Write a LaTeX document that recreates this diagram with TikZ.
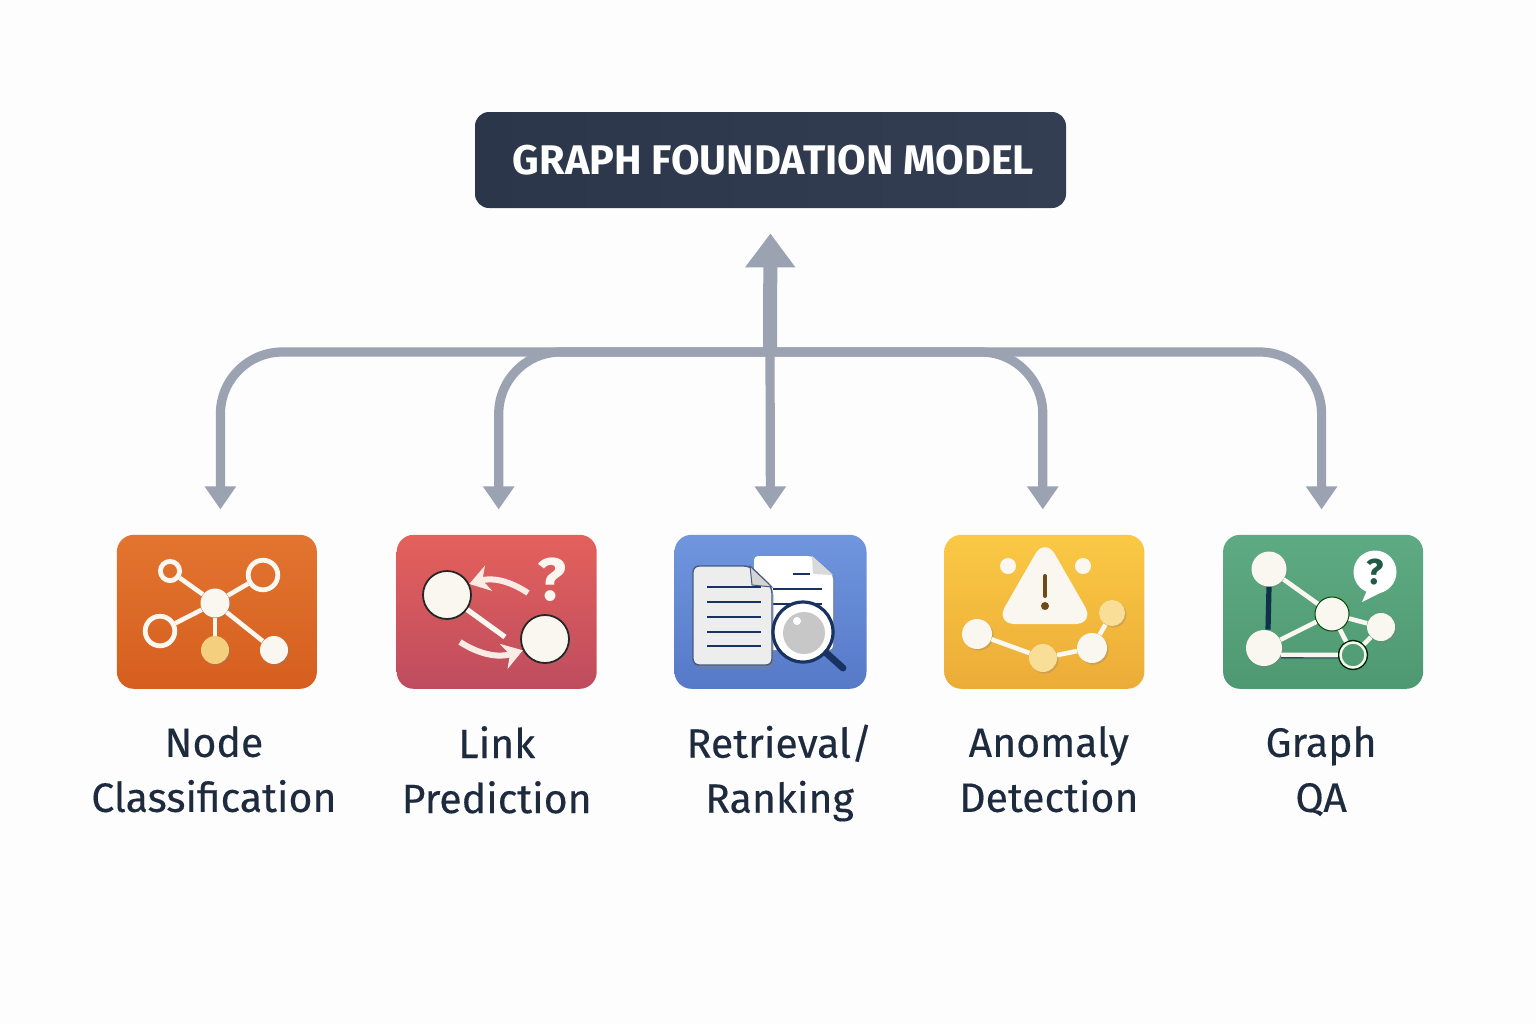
\documentclass[tikz,border=0pt]{standalone}
\usepackage{xcolor}
\usepackage{fontspec}
\setmainfont{Fira Sans}
\newfontfamily\lblfont{Fira Sans}[FakeBold=0.3]
\usetikzlibrary{arrows.meta, positioning, shadows}
\definecolor{bgwhite}{RGB}{253, 253, 253}
\definecolor{linkgray}{RGB}{155, 162, 178}
\definecolor{inkblue}{RGB}{30, 43, 62}
\definecolor{navy}{RGB}{24, 50, 98}
\definecolor{cream}{RGB}{250, 247, 241}
\definecolor{titleleft}{RGB}{43, 54, 74}
\definecolor{titleright}{RGB}{52, 62, 82}
\definecolor{orangetop}{RGB}{226, 117, 48}
\definecolor{orangelow}{RGB}{214, 94, 30}
\definecolor{redtop}{RGB}{228, 97, 92}
\definecolor{redlow}{RGB}{190, 76, 94}
\definecolor{bluetop}{RGB}{112, 150, 222}
\definecolor{bluelow}{RGB}{86, 121, 200}
\definecolor{goldtop}{RGB}{250, 201, 68}
\definecolor{goldlow}{RGB}{236, 172, 56}
\definecolor{greentop}{RGB}{94, 170, 131}
\definecolor{greenlow}{RGB}{78, 153, 113}
\definecolor{sand}{RGB}{243, 207, 126}
\definecolor{butter}{RGB}{248, 222, 150}
\definecolor{umber}{RGB}{110, 74, 20}
\definecolor{deepteal}{RGB}{16, 48, 74}
\definecolor{askgreen}{RGB}{31, 91, 69}
\definecolor{midgreen}{RGB}{82, 158, 118}

\begin{document}
\begin{tikzpicture}[
    x=0.5pt, y=-0.5pt,
    title/.style={rectangle, rounded corners=7pt, minimum width=295.5pt, minimum height=48pt, left color=titleleft, right color=titleright, text=white, font=\fontsize{20.7}{24}\selectfont\bfseries},
    icon/.style={rectangle, rounded corners=8.5pt, minimum width=100pt, minimum height=77pt, inner sep=0pt},
    lbl/.style={align=center, text=inkblue, inner sep=0pt, font=\lblfont\fontsize{20.5}{27.5}\selectfont, execute at begin node=\strut, execute at end node=\strut},
    link/.style={line width=4.6pt, draw=linkgray, rounded corners=31pt, shorten >=12.5pt, -{Triangle[width=15pt, length=11.5pt]}},
    uplink/.style={line width=7pt, draw=linkgray, shorten >=12.5pt, -{Triangle[width=24pt, length=17pt]}},
    dot/.style={circle, inner sep=0pt, minimum size=#1, fill=cream, drop shadow={shadow xshift=0.8pt, shadow yshift=-0.8pt, opacity=0.3}},
    rim/.style={dot=#1, draw=black!85, line width=0.9pt},
    ring/.style={circle, inner sep=0pt, minimum size=#1, draw=cream, line width=2.4pt},
    edge/.style={line width=2.3pt, draw=cream},
    swoop/.style={line width=3pt, draw=cream!95!red, -{Stealth[width=13pt, length=10pt]}}
]

    \fill[bgwhite] (0,0) rectangle (1536,1024);
    \useasboundingbox (0,0) rectangle (1536,1024);

    \node[title] (gfm) at (770.5,160) {\hspace{3pt}GRAPH FOUNDATION MODEL};

    \node[icon, minimum width=96pt, below=163pt of gfm, top color=bluetop, bottom color=bluelow] (rr) {};
    \node[icon, left=38.5pt of rr, top color=redtop, bottom color=redlow] (lp) {};
    \node[icon, left=39.5pt of lp, top color=orangetop, bottom color=orangelow] (nc) {};
    \node[icon, right=38.5pt of rr, top color=goldtop, bottom color=goldlow] (ad) {};
    \node[icon, right=39pt of ad, top color=greentop, bottom color=greenlow] (qa) {};

    \node[lbl, below=18.25pt of nc, xshift=-1.5pt] (nctext) {Node\\Classification};
    \node[lbl, below=18.25pt of lp] (lptext) {Link\\Prediction};
    \node[lbl, below=17.5pt of rr, xshift=4.5pt] (rrtext) {Retrieval/\\Ranking};
    \node[lbl, below=18.25pt of ad, xshift=2.25pt] (adtext) {Anomaly\\Detection};
    \node[lbl, below=18.25pt of qa, xshift=-1pt] (qatext) {Graph\\QA};

    \coordinate (hub) at (770,352);
    \draw[link] (hub) -| ([xshift=1.75pt]nc.north);
    \draw[link] (hub) -| ([xshift=1pt]lp.north);
    \draw[link] (hub) -- (rr.north);
    \draw[link] (hub) -| ([xshift=-0.75pt]ad.north);
    \draw[link] (hub) -| ([xshift=-0.75pt]qa.north);
    \draw[uplink] (hub) -- (gfm.south);

    % node classification
    \node[dot=14.5pt] (nchub) at (215,603) {};
    \node[ring=9.6pt] (nca) at (170,571) {};
    \node[ring=14.8pt] (ncb) at (263,575) {};
    \node[ring=14.8pt] (ncc) at (160,631) {};
    \node[dot=14pt, fill=sand] (ncd) at (215,650) {};
    \node[dot=14pt] (nce) at (274,650) {};
    \foreach \leaf in {nca, ncb, ncc, ncd, nce}
        \draw[edge] (nchub) -- (\leaf);

    % link prediction
    \node[rim=24pt] (lpa) at (447,595) {};
    \node[rim=24pt] (lpb) at (545,639) {};
    \coordinate (lpstop) at (505,637);
    \coordinate (lpup) at (528,593);
    \coordinate (lpdown) at (460,642);
    \draw[edge, line width=2.6pt] (lpa) -- (lpstop);
    \draw[swoop] (lpup) to[bend right=25] (lpa);
    \draw[swoop] (lpdown) to[bend right=25] (lpb);
    \node[text=cream, font=\fontsize{30}{30}\selectfont\bfseries] (lpask) at (552,580) {?};

    % retrieval
    \draw[fill=white, draw=none, rounded corners=2pt, drop shadow={shadow xshift=1pt, shadow yshift=-1pt, opacity=0.3}] (754,556) -- (812,556) -- (833,575) -- (833,650) -- (754,650) -- cycle;
    \fill[black!15] (812,556) -- (833,575) -- (813,574) -- cycle;
    \draw[navy, line width=1.2pt] (793,574) -- (810,574);
    \draw[navy, line width=1.2pt] (773,589) -- (822,589);
    \draw[navy, line width=1.2pt] (773,604) -- (822,604);
    \draw[fill=black!7, draw=navy!80, line width=0.7pt, rounded corners=3pt, drop shadow={shadow xshift=1pt, shadow yshift=-2pt, opacity=0.35}] (693,566) -- (750,566) -- (772,587) -- (772,665) -- (693,665) -- cycle;
    \fill[black!17, draw=navy!80, line width=0.5pt] (750,566) -- (772,587) -- (752,585) -- cycle;
    \foreach \row in {587, 602, 617, 632, 646}
        \draw[navy, line width=1.3pt] (707,\row) -- (761,\row);
    \node[circle, inner sep=0pt, minimum size=30pt, fill=white, draw=navy, line width=1.6pt] (rrlens) at (803,632) {};
    \node[circle, inner sep=0pt, minimum size=21pt, fill=black!22] (rrglass) at (804,633) {};
    \fill[white] (797,621) circle (4);
    \coordinate (rrgrip) at (843,668);
    \draw[navy, line width=3.4pt, line cap=round] (rrlens) -- (rrgrip);

    % anomaly detection
    \draw[fill=cream, draw=cream, line width=4pt, line join=round, rounded corners=6pt, drop shadow={shadow xshift=1pt, shadow yshift=-1pt, opacity=0.2}] (1045,545) -- (1088,620) -- (1002,620) -- cycle;
    \draw[draw=umber, line width=2pt, line cap=round] (1045,576) -- (1045,596);
    \fill[umber] (1045,606) circle (4);
    \node[circle, inner sep=0pt, minimum size=8pt, fill=cream] (adl) at (1008,566) {};
    \node[circle, inner sep=0pt, minimum size=8pt, fill=cream] (adr) at (1083,566) {};
    \node[dot=15pt] (ada) at (977,634) {};
    \node[dot=14pt, fill=butter] (adb) at (1043,658) {};
    \node[dot=15pt] (adc) at (1092,648) {};
    \node[dot=13pt, fill=butter] (add) at (1112,613) {};
    \draw[edge] (ada) -- (adb);
    \draw[edge] (adb) -- (adc);
    \draw[edge] (adc) -- (add);

    % graph qa
    \node[dot=17.5pt] (qaa) at (1269,569) {};
    \node[dot=18pt] (qab) at (1264,648) {};
    \node[dot=17pt, draw=black!70!green, line width=0.5pt] (qac) at (1332,614) {};
    \node[dot=14pt] (qad) at (1381,627) {};
    \node[circle, inner sep=0pt, minimum size=12.5pt, fill=midgreen, draw=cream, line width=1.2pt] (qae) at (1353,655) {};
    \node[circle, inner sep=0pt, minimum size=14.5pt, draw=black!85!green, line width=0.6pt] (qaeout) at (1353,655) {};
    \draw[line width=2.6pt, draw=deepteal] (qaa.south) -- ([xshift=2pt]qab.north);
    \draw[edge] (qaa) -- (qac);
    \draw[edge] (qab) -- (qac);
    \draw[edge] (qac) -- (qad);
    \draw[edge] (qac) -- (qaeout);
    \draw[edge] (qad) -- (qaeout);
    \draw[line width=1pt, draw=deepteal, transform canvas={yshift=-1.2pt}] (qab.-22) -- (qaeout.west);
    \draw[edge] (qab.-22) -- (qaeout.west);
    \fill[white] (1362,602) -- (1368,588) -- (1386,590) -- cycle;
    \node[circle, inner sep=0pt, minimum size=21.5pt, fill=white, text=askgreen, font=\fontsize{18}{18}\selectfont\bfseries] (qaask) at (1375,572) {?};

\end{tikzpicture}
\end{document}
